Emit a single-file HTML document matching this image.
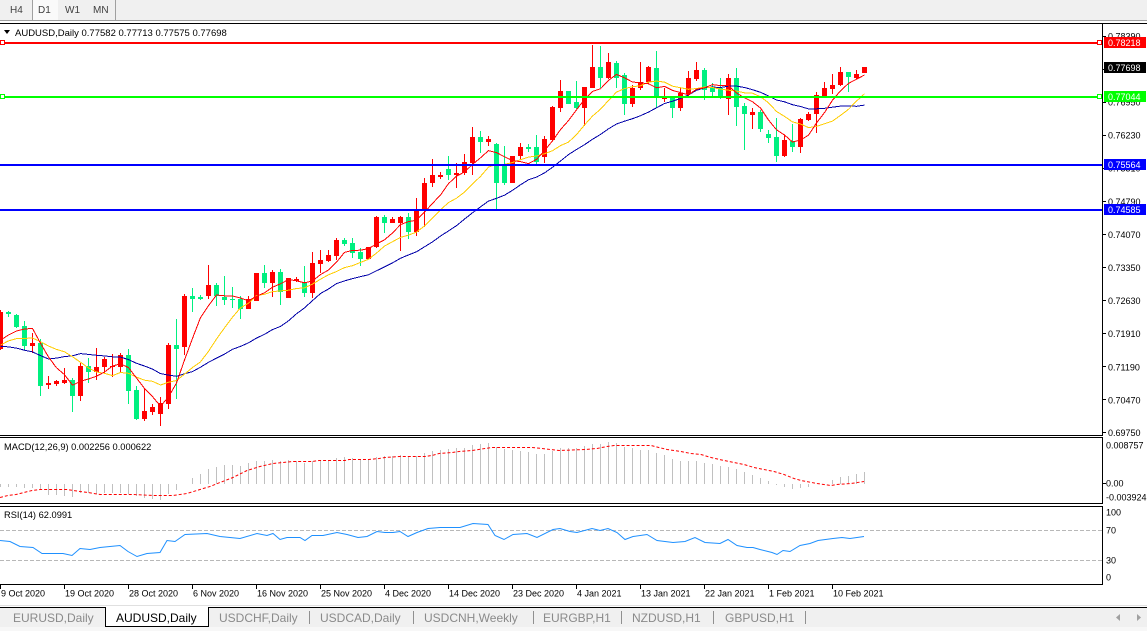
<!DOCTYPE html>
<html><head><meta charset="utf-8">
<style>
html,body{margin:0;padding:0;background:#fff;width:1147px;height:631px;overflow:hidden}
svg{display:block}
text{font-family:"Liberation Sans",Arial,sans-serif}
</style></head><body>
<svg id="s" width="1147" height="631" viewBox="0 0 1147 631" xmlns="http://www.w3.org/2000/svg">
<rect width="1147" height="631" fill="#fff"/>
<!-- top toolbar -->
<g shape-rendering="crispEdges">
<rect x="0" y="0" width="1147" height="20" fill="#f0f0f0"/>
<rect x="32" y="0" width="26" height="20" fill="#fafafa"/>
<rect x="32" y="0" width="1" height="20" fill="#a0a0a0"/>
<rect x="115" y="0" width="1" height="20" fill="#a0a0a0"/>
<rect x="0" y="20" width="1147" height="1" fill="#a0a0a0"/>
</g>
<g font-size="10" fill="#404040">
<text x="10" y="13">H4</text>
<text x="38" y="13">D1</text>
<text x="65" y="13">W1</text>
<text x="93" y="13">MN</text>
</g>

<!-- pane borders -->
<g shape-rendering="crispEdges" fill="#000">
<rect x="0" y="23" width="1147" height="1"/>
<rect x="0" y="435" width="1103" height="1"/>
<rect x="0" y="437" width="1103" height="1"/>
<rect x="0" y="503" width="1103" height="1"/>
<rect x="0" y="506" width="1103" height="1"/>
<rect x="0" y="584" width="1103" height="1"/>
<rect x="1102" y="23" width="1" height="413"/>
<rect x="1102" y="437" width="1" height="67"/>
<rect x="1102" y="506" width="1" height="79"/>
</g>

<!-- RSI level lines -->
<g shape-rendering="crispEdges" stroke="#b8b8b8" stroke-width="1" stroke-dasharray="4,2">
<line x1="0" y1="530.5" x2="1102" y2="530.5"/>
<line x1="0" y1="560.5" x2="1102" y2="560.5"/>
</g>

<!-- MACD histogram / signal -->
<g id="hist" shape-rendering="crispEdges"></g>
<g id="sig"></g>
<!-- RSI -->
<g id="rsi"></g>

<!-- candles and MAs -->
<g id="cndl" shape-rendering="crispEdges"></g>
<g id="ma" shape-rendering="crispEdges"></g>

<!-- horizontal levels -->
<g shape-rendering="crispEdges">
<rect x="0" y="42" width="1102" height="2" fill="#ff0000"/>
<rect x="0" y="96" width="1102" height="2" fill="#00ff00"/>
<rect x="0" y="164" width="1102" height="2" fill="#0000ff"/>
<rect x="0" y="209" width="1102" height="2" fill="#0000ff"/>
<rect x="0.5" y="40.5" width="4" height="4" fill="#fff" stroke="#ff0000"/>
<rect x="1097.5" y="40.5" width="4" height="4" fill="#fff" stroke="#ff0000"/>
<rect x="0.5" y="94.5" width="4" height="4" fill="#fff" stroke="#00ff00"/>
<rect x="1097.5" y="94.5" width="4" height="4" fill="#fff" stroke="#00ff00"/>
</g>

<!-- header texts -->
<polygon points="4,30 10,30 7,34" fill="#000"/>
<text x="15" y="36" font-size="9.5" fill="#000">AUDUSD,Daily  0.77582 0.77713 0.77575 0.77698</text>
<text x="4" y="450" font-size="9.3" fill="#000">MACD(12,26,9) 0.002256 0.000622</text>
<text x="4" y="518" font-size="9.3" fill="#000">RSI(14) 62.0991</text>

<!-- price axis ticks -->
<g shape-rendering="crispEdges" fill="#000">
<rect x="1102" y="36" width="4" height="1"/>
<rect x="1102" y="69" width="4" height="1"/>
<rect x="1102" y="102" width="4" height="1"/>
<rect x="1102" y="135" width="4" height="1"/>
<rect x="1102" y="168" width="4" height="1"/>
<rect x="1102" y="201" width="4" height="1"/>
<rect x="1102" y="234" width="4" height="1"/>
<rect x="1102" y="267" width="4" height="1"/>
<rect x="1102" y="300" width="4" height="1"/>
<rect x="1102" y="333" width="4" height="1"/>
<rect x="1102" y="366" width="4" height="1"/>
<rect x="1102" y="399" width="4" height="1"/>
<rect x="1102" y="432" width="4" height="1"/>
<rect x="1102" y="483" width="4" height="1"/>
</g>
<g font-size="9" fill="#000">
<text x="1108" y="39.3">0.78390</text>
<text x="1108" y="72.4">0.77670</text>
<text x="1108" y="105.5">0.76950</text>
<text x="1108" y="138.6">0.76230</text>
<text x="1108" y="171.7">0.75510</text>
<text x="1108" y="204.8">0.74790</text>
<text x="1108" y="237.9">0.74070</text>
<text x="1108" y="271">0.73350</text>
<text x="1108" y="304.1">0.72630</text>
<text x="1108" y="337.2">0.71910</text>
<text x="1108" y="370.3">0.71190</text>
<text x="1108" y="403.4">0.70470</text>
<text x="1108" y="436.2">0.69750</text>
<text x="1106" y="448.5">0.008757</text>
<text x="1106" y="486.5">0.00</text>
<text x="1106" y="500.5">-0.003924</text>
<text x="1106" y="515.5">100</text>
<text x="1106" y="533.5">70</text>
<text x="1106" y="563.5">30</text>
<text x="1106" y="580.5">0</text>
</g>

<!-- price boxes -->
<g shape-rendering="crispEdges">
<rect x="1104" y="37" width="42" height="11" fill="#ff0000"/>
<rect x="1104" y="62" width="42" height="11" fill="#000"/>
<rect x="1104" y="91" width="42" height="11" fill="#00ff00"/>
<rect x="1104" y="159" width="42" height="11" fill="#0000ff"/>
<rect x="1104" y="204" width="42" height="11" fill="#0000ff"/>
</g>
<g font-size="9" fill="#fff">
<text x="1108" y="46">0.78218</text>
<text x="1108" y="71">0.77698</text>
<text x="1108" y="100">0.77044</text>
<text x="1108" y="168">0.75564</text>
<text x="1108" y="213">0.74585</text>
</g>

<!-- time axis -->
<g shape-rendering="crispEdges" fill="#000">
<rect x="0" y="584" width="1" height="5"/>
<rect x="64" y="584" width="1" height="5"/>
<rect x="128" y="584" width="1" height="5"/>
<rect x="192" y="584" width="1" height="5"/>
<rect x="256" y="584" width="1" height="5"/>
<rect x="320" y="584" width="1" height="5"/>
<rect x="384" y="584" width="1" height="5"/>
<rect x="448" y="584" width="1" height="5"/>
<rect x="512" y="584" width="1" height="5"/>
<rect x="576" y="584" width="1" height="5"/>
<rect x="640" y="584" width="1" height="5"/>
<rect x="704" y="584" width="1" height="5"/>
<rect x="768" y="584" width="1" height="5"/>
<rect x="832" y="584" width="1" height="5"/>
</g>
<g font-size="9" fill="#000">
<text x="1" y="596.5">9 Oct 2020</text>
<text x="65" y="596.5">19 Oct 2020</text>
<text x="129" y="596.5">28 Oct 2020</text>
<text x="193" y="596.5">6 Nov 2020</text>
<text x="257" y="596.5">16 Nov 2020</text>
<text x="321" y="596.5">25 Nov 2020</text>
<text x="385" y="596.5">4 Dec 2020</text>
<text x="449" y="596.5">14 Dec 2020</text>
<text x="513" y="596.5">23 Dec 2020</text>
<text x="577" y="596.5">4 Jan 2021</text>
<text x="641" y="596.5">13 Jan 2021</text>
<text x="705" y="596.5">22 Jan 2021</text>
<text x="769" y="596.5">1 Feb 2021</text>
<text x="833" y="596.5">10 Feb 2021</text>
</g>

<!-- bottom tabs -->
<g shape-rendering="crispEdges">
<rect x="0" y="605" width="1147" height="1" fill="#e0e0e0"/>
<rect x="0" y="607" width="1147" height="24" fill="#f0f0f0"/>
<rect x="0" y="627" width="1147" height="4" fill="#f7f7f7"/>
<rect x="0" y="607" width="105" height="1" fill="#000"/>
<rect x="209" y="607" width="938" height="1" fill="#000"/>
<rect x="105" y="606" width="104" height="20" fill="#fff"/>
<rect x="105" y="607" width="1" height="20" fill="#000"/>
<rect x="208" y="607" width="1" height="20" fill="#000"/>
<rect x="105" y="626" width="104" height="1" fill="#000"/>
<rect x="309" y="611" width="1" height="13" fill="#909090"/>
<rect x="413" y="611" width="1" height="13" fill="#909090"/>
<rect x="533" y="611" width="1" height="13" fill="#909090"/>
<rect x="621" y="611" width="1" height="13" fill="#909090"/>
<rect x="713" y="611" width="1" height="13" fill="#909090"/>
<rect x="805" y="611" width="1" height="13" fill="#909090"/>
</g>
<g font-size="12" fill="#8a8a8a">
<text x="13" y="622">EURUSD,Daily</text>
<text x="116" y="622" fill="#000">AUDUSD,Daily</text>
<text x="219" y="622">USDCHF,Daily</text>
<text x="320" y="622">USDCAD,Daily</text>
<text x="424" y="622">USDCNH,Weekly</text>
<text x="543" y="622">EURGBP,H1</text>
<text x="632" y="622">NZDUSD,H1</text>
<text x="725" y="622">GBPUSD,H1</text>
</g>
<polygon points="1120,614 1120,621 1116,617.5" fill="#a0a0a0"/>
<polygon points="1137,614 1137,621 1141,617.5" fill="#a0a0a0"/>
</svg>
<script>
(function(){
var NS="http://www.w3.org/2000/svg";
function mk(t,a,p){var e=document.createElementNS(NS,t);for(var k in a)e.setAttribute(k,a[k]);p.appendChild(e);return e;}
var C=[
['R',312,349,310,350],['G',312,314,311,317],['G',315,327,314,328],['G',326,346,321,350],['R',343,346,333,353],
['G',343,386,339,396],['R',383,385,376,389],['R',381,384,380,386],['R',380,383,368,384],['G',380,396,378,412],
['R',366,396,363,401],['G',366,372,358,383],['R',367,372,348,380],['R',359,367,357,373],['R',366,367,354,377],
['R',355,367,353,372],['G',355,391,349,404],['G',390,419,386,420],['R',411,419,388,421],['R',407,412,404,415],
['R',403,414,397,426],['R',345,404,343,409],['G',345,349,319,399],['R',296,347,294,355],['G',296,299,288,312],
['G',297,299,295,300],['R',285,296,265,299],['G',285,296,283,306],['G',297,300,276,305],['G',299,300,287,308],
['G',299,309,296,319],['R',299,309,296,309],['R',273,301,273,301],['G',273,283,265,288],['R',272,283,270,297],
['G',272,292,269,305],['R',278,298,278,298],['R',279,281,277,282],['G',283,293,266,297],['R',263,293,252,298],
['R',260,264,250,273],['R',255,261,250,262],['R',240,256,238,260],['G',240,244,238,246],['G',243,253,238,258],
['G',252,259,248,266],['R',247,259,247,259],['R',217,247,216,248],['G',217,223,215,233],['R',219,223,217,223],
['R',217,223,216,251],['G',217,232,213,239],['R',210,232,198,236],['R',183,210,178,227],['R',175,183,159,187],
['R',175,177,172,179],['G',169,175,156,180],['R',173,175,163,188],['R',162,173,154,175],['R',137,163,127,175],
['G',137,142,131,153],['R',139,142,136,146],['G',144,183,143,209],['G',165,183,146,185],['R',156,183,156,183],
['R',147,156,143,159],['G',147,149,144,152],['G',147,162,135,164],['R',139,157,136,163],['R',107,140,106,141],
['R',91,108,80,112],['G',91,104,91,104],['G',102,108,81,109],['R',87,108,87,126],['R',67,88,45,88],
['G',67,78,46,88],['R',62,78,53,79],['G',63,78,61,88],['G',75,104,73,115],['R',88,104,85,107],
['R',82,88,62,90],['R',67,82,66,84],['G',68,98,51,108],['R',97,99,88,102],['G',97,108,96,118],
['R',93,108,88,111],['R',78,94,71,98],['R',70,79,62,81],['G',70,90,68,100],['G',88,92,83,97],
['G',88,98,78,99],['R',78,99,74,115],['G',78,107,68,126],['G',106,114,103,150],['R',112,115,108,129],
['G',112,129,110,132],['G',134,138,130,143],['G',137,156,118,162],['R',140,156,135,157],['G',141,147,124,152],
['R',119,147,118,153],['R',114,120,112,121],['R',95,114,92,133],['R',88,96,82,97],['R',85,89,74,94],
['R',72,85,67,86],['G',72,77,72,92],['R',74,78,70,79],['R',67,73,67,73]
];
var pre=[300,302,305,308,312,316,400,410,412,409,355,350,348,347,349,340,347,356,346];
var gc=document.getElementById('cndl');
var closes=[];
for(var k=0;k<C.length;k++){
 var c=C[k],x=8*k,col=c[0]=='R'?'#ff0000':'#00f080';
 mk('rect',{x:x,y:c[3],width:1,height:Math.max(1,c[4]-c[3]),fill:col},gc);
 mk('rect',{x:x-2,y:c[1],width:5,height:Math.max(1,c[2]-c[1]),fill:col},gc);
 closes.push(c[0]=='R'?c[1]:c[2]);
}
var s=pre.concat(closes);
var gm=document.getElementById('ma');
function sma(n,col){var pts=[];for(var k=0;k<closes.length;k++){var i=k+pre.length,sum=0;for(var j=i-n+1;j<=i;j++)sum+=s[j];pts.push((8*k+0.5)+','+(sum/n).toFixed(1));}
 mk('polyline',{points:pts.join(' '),fill:'none',stroke:col,'stroke-width':1},gm);}
sma(20,'#0000a8');sma(10,'#ffcc00');sma(5,'#ff0000');

var H=[487,487,487,488,488,489,495,495,496,497,493,493,494,493,493,493,494,496,498,499,500,494,490,484,478,474,469,467,465,465,466,463,461,461,460,461,460,
461,463,461,460,460,458,457,458,459,459,457,456,456,455,456,456,453,451,450,449,448,448,445,444,443,447,449,450,451,452,454,454,451,448,448,448,
446,444,444,442,443,447,448,450,450,453,455,459,461,461,461,463,464,466,467,469,472,475,478,481,485,487,489,488,487,484,484,480,477,476,474,472];
var gh=document.getElementById('hist');
for(var k=0;k<H.length;k++){var v=H[k],z=484;if(Math.abs(v-z)<1)continue;
 mk('rect',{x:8*k,y:Math.min(v,z),width:1,height:Math.abs(v-z),fill:'#c0c0c0'},gh);}

var SG=[[0,497],[8,495],[16,494],[24,492],[32,490],[40,489],[67,489],[80,491],[88,492],[100,494],[133,494],[153,495],[173,495],[187,493],[200,489],[210,486],[220,482],[233,477],[247,470],[260,466],[273,463],[293,461],
[312,461],[319,460],[345,460],[349,459],[369,459],[379,458],[385,457],[399,456],[425,456],[432,455],[439,453],[452,452],[459,451],[472,450],[485,448],[492,447],[532,447],[542,448],[559,450],[585,449],
[597,448],[607,446],[614,445],[651,445],[667,449],[681,451],[691,453],[701,454],[711,457],[724,460],[734,462],[744,464],[754,467],[764,469],[774,471],[784,474],[794,478],[801,480],[817,483],[831,485],[837,484],[851,483],[864,481]];
mk('polyline',{points:SG.map(function(p){return p[0]+','+(p[1]+0.5);}).join(' '),fill:'none',stroke:'#ff0000','stroke-width':1,'stroke-dasharray':'3,2'},document.getElementById('sig'));

var R=[[0,540],[10,541],[20,546],[33,547],[42,553],[50,553],[63,553],[72,555],[80,548],[90,549],[100,547],[110,546],[120,545],[128,551],[137,556],[147,553],[160,552],[167,540],[175,541],[185,534],[207,533],[220,536],[240,538],[257,533],[267,535],[273,533],[280,539],[287,537],[300,537],[305,540],[312,535],[323,535],[337,532],[347,534],[358,537],[367,536],[377,531],[385,532],
[393,532],[400,531],[408,536],[417,532],[428,528],[440,527],[460,527],[473,523],[488,524],[495,535],[504,539],[513,534],[527,533],[537,537],[553,529],[560,528],[570,531],[577,532],[592,528],[600,530],[608,528],[617,532],[625,539],[633,536],[647,534],[657,540],[673,542],[685,541],[695,537],[705,542],[720,543],[728,539],[737,545],[747,547],[753,547],[760,549],[772,552],[777,554],
[783,550],[790,551],[800,545],[810,543],[818,540],[833,538],[842,537],[850,538],[864,536]];
mk('polyline',{points:R.map(function(p){return p[0]+','+(p[1]+0.5);}).join(' '),fill:'none',stroke:'#1e90ff','stroke-width':1},document.getElementById('rsi'));
})();
</script>
</body></html>
